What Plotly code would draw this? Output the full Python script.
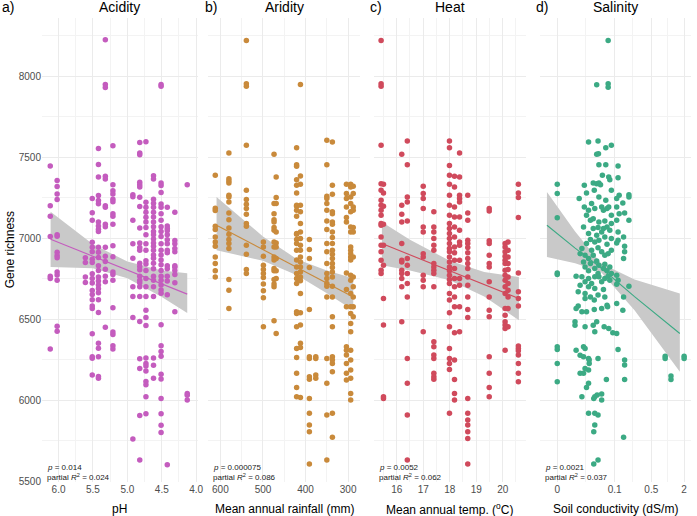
import numpy as np
import plotly.graph_objects as go

# ------------------------------------------------------------------------
# Data (gene richness per sample, grouped by site value)

# a) Acidity
ph_sites = [6.12, 6.02, 5.61, 5.51, 5.42, 5.32, 5.21, 4.92, 4.82, 4.73, 4.62, 4.51, 4.42, 4.31, 4.13]
ph_richness = [
    [7445, 7200, 7135, 7010, 6765, 6750, 6315],
    [7356, 7318, 7273, 7238, 7020, 7012, 6912, 6892, 6878, 6790, 6772, 6740, 6455, 6425],
    [6878, 6850, 6760, 6726],
    [7244, 7157, 7110, 6975, 6943, 6915, 6870, 6850, 6780, 6750, 6722, 6676, 6652, 6620, 6580, 6565,
     6410, 6268, 6258, 6155],
    [7553, 7455, 7377, 7263, 7232, 7212, 7099, 7075, 7055, 7040, 6943, 6912, 6880, 6830, 6800, 6760,
     6735, 6710, 6688, 6662, 6620, 6540, 6350, 6320, 6267, 6145, 6135],
    [8225, 7948, 7930, 7382, 7365, 7200, 7190, 7085, 7070, 6944, 6888, 6855, 6808, 6765, 6730, 6450],
    [7570, 7330, 7292, 7272, 7240, 7225, 7150, 7135, 7085, 6953, 6885, 6790, 6775, 6740, 6570, 6420,
     6405, 6335, 6315],
    [7268, 7255, 7110, 6965, 6875, 6700, 6640, 6510, 5760],
    [7590, 7525, 7515, 7345, 7330, 7315, 7252, 7195, 7062, 6970, 6942, 6925, 6845, 6825, 6805, 6765,
     6740, 6725, 6700, 6640, 6485, 6255, 6195, 5905, 5630],
    [7595, 7222, 7190, 7160, 7128, 7100, 7065, 7020, 6965, 6925, 6860, 6840, 6800, 6750, 6700, 6640,
     6555, 6510, 6460, 6260, 6226, 6210, 6180, 6115, 6095, 6020, 5915],
    [7385, 7365, 7240, 7215, 7190, 7160, 7130, 7100, 7070, 7040, 7020, 6995, 6970, 6950, 6925, 6895,
     6875, 6845, 6810, 6765, 6740, 6700, 6640, 6260, 6215, 6135],
    [7948, 7938, 7340, 7325, 7282, 7210, 7190, 7150, 7110, 7070, 7040, 7010, 6965, 6925, 6895, 6865,
     6835, 6800, 6765, 6740, 6710, 6680, 6660, 6465, 6335, 6300, 6270, 6160, 6130, 6010, 5915, 5845, 5800],
    [7190, 7075, 7060, 7045, 7020, 6990, 6965, 6925, 6910, 6830, 6810, 6765, 6735, 6650, 5600],
    [7160, 6985, 6965, 6935, 6915, 6830, 6820, 6800, 6775, 6725, 6545],
    [7330, 6040, 6030, 6000],
]

# b) Aridity
rain_sites = [612, 580, 539, 499, 474, 469, 421, 412, 391, 376, 350, 337, 304, 294, 288]
rain_richness = [
    [7388, 7185, 7170, 7073, 7053, 7007, 6976, 6950, 6884, 6843, 6798, 6760],
    [7525, 7367, 7353, 7340, 7264, 7254, 7223, 7155, 7114, 7063, 7024, 6991, 6966, 6935, 6744, 6678, 6565],
    [8220, 7953, 7937, 7573, 7295, 7238, 7209, 7182, 7147, 7090, 7073, 6956, 6900, 6806, 6781],
    [6976, 6945, 6888, 6833, 6806, 6781, 6757, 6716, 6675, 6631, 6452],
    [7517, 7213, 7151, 7114, 7100, 7065, 7048, 6976, 6945, 6884, 6864, 6812, 6798, 6744, 6716, 6699, 6489],
    [7377, 7250, 7213, 7038, 6970, 6945, 6874, 6798, 6751, 6411],
    [7558, 7453, 7443, 7361, 7326, 7279, 7203, 7197, 7172, 7135, 7028, 7024, 6991, 6966, 6925, 6864,
     6822, 6781, 6751, 6720, 6545, 6535, 6452, 6319, 6263, 6165, 6078, 6021],
    [7949, 7384, 7332, 7203, 7162, 7090, 7038, 6997, 6956, 6925, 6884, 6853, 6822, 6791, 6760, 6736,
     6658, 6539, 6463, 6350, 6325, 6016],
    [6991, 6930, 6874, 6818, 6559, 6267, 6257, 6144, 6128, 6010, 5918, 5846, 5805, 5605],
    [6267, 6257, 6154, 6134],
    [7604, 7453, 7258, 7244, 7213, 7172, 7106, 7053, 6966, 6915, 6843, 6781, 6751, 6720, 6703, 6637,
     6257, 6103, 5907, 5630],
    [7593, 7326, 7270, 7162, 7151, 7100, 7085, 7038, 7003, 6966, 6925, 6900, 6874, 6843, 6818, 6791,
     6760, 6703, 6637, 6514, 6452, 6267, 6247, 6226, 6175, 5918, 5770],
    [7332, 7275, 7244, 7192, 7127, 7100, 6785, 6683, 6576, 6329, 6308, 6278, 6226, 6165, 6124],
    [7332, 7316, 7254, 7213, 7162, 7069, 7038, 6945, 6925, 6904, 6884, 6864, 6771, 6740, 6658, 6576,
     6535, 6473, 6421, 6308, 6247, 6185, 6134, 6041, 6000],
    [7320, 7275, 7192, 7172, 7065, 7038, 6884, 6760, 6699, 6637, 6576, 6514],
]

# c) Heat
temp_sites = [15.41, 15.5, 16.19, 16.4, 17.0, 17.4, 17.99, 18.18, 18.37, 18.68, 19.49, 20.09, 20.2, 20.59]
temp_richness = [
    [8220, 7953, 7937, 7573, 7336, 7295, 7233, 7203, 7172, 7141, 7090, 7079, 7007, 6956, 6915, 6863, 6802, 6781],
    [7332, 7279, 7197, 7085, 6956, 6833, 6627, 6463, 6020, 6010],
    [7517, 7203, 7147, 7100, 6966, 6863, 6853, 6802, 6781, 6751, 6699, 6483],
    [7600, 7453, 7254, 7223, 7106, 6874, 6833, 6781, 6720, 6637, 6257, 6103, 5907, 5630],
    [7320, 7275, 7244, 7182, 7069, 7038, 6904, 6884, 6771, 6740, 6699, 6421],
    [7162, 7069, 7038, 6997, 6956, 6925, 6843, 6822, 6802, 6781, 6699, 6360, 6329, 6278, 6257, 6165, 6144, 6128],
    [7600, 7558, 7449, 7388, 7332, 7264, 7203, 7141, 7090, 7059, 7028, 6997, 6966, 6935, 6915, 6884,
     6853, 6822, 6798, 6771, 6744, 6720, 6658, 6617, 6539, 6452, 6319, 6257, 6226, 6189, 5918],
    [7382, 7316, 7192, 7131, 7069, 7007, 6945, 6909, 6863, 6812, 6751, 6699, 6637, 6576, 6415, 6247,
     6127, 6041, 6000],
    [7525, 7377, 7264, 7244, 7223, 7131, 7048, 6976, 6956, 6863, 6751, 6709, 6576, 6421],
    [7264, 7155, 7110, 6987, 6966, 6942, 6909, 6874, 6843, 6812, 6760, 6709, 6637, 6559, 6510, 6010,
     5918, 5877, 5846, 5805, 5763, 5605],
    [7182, 7168, 6983, 6966, 6894, 6843, 6822, 6730, 6637, 6555, 6514, 6267, 6165, 6078, 6021],
    [6966, 6945, 6915, 6888, 6863, 6843, 6802, 6771, 6740, 6699, 6658, 6565, 6524, 6483, 6463, 6442, 6308],
    [6976, 6925, 6884, 6843, 6806, 6760, 6720, 6678, 6637, 6565, 6452],
    [7332, 7279, 7250, 7127, 6785, 6668, 6627, 6580, 6333, 6319, 6304, 6278, 6226, 6165, 6113],
]

# d) Salinity: (soil conductivity dS/m, gene richness)
salinity_points = [
    (.074, 8220), (.042, 7947), (.074, 7953), (.074, 7932),
    (.027, 7593), (.045, 7599), (.066, 7558), (.086, 7573), (.042, 7517), (.046, 7521),
    (.047, 7453), (.066, 7453), (.117, 7445), (.056, 7388), (.076, 7377), (.080, 7361), (.117, 7373),
    (0, 7332), (.021, 7326), (.035, 7340), (.042, 7336), (.047, 7340), (.051, 7330),
    (0, 7275), (.015, 7244), (.024, 7279), (.037, 7295), (.086, 7295), (.123, 7264), (.19, 7268),
    (.19, 7254), (.066, 7233), (.11, 7244), (.145, 7217), (.047, 7254), (.032, 7213),
    (.021, 7192), (.027, 7172), (.038, 7182), (.054, 7192), (.059, 7172), (.07, 7182), (.076, 7192),
    (.11, 7192), (.123, 7151), (.157, 7155), (.024, 7141), (.03, 7110), (.035, 7120), (.086, 7141),
    (.11, 7110), (.19, 7110), (0, 7125), (.047, 7100), (.063, 7106), (.086, 7090),
    (.02, 7069), (.035, 7059), (.045, 7065), (.059, 7059), (.07, 7069), (.054, 7038), (.08, 7048),
    (.117, 7038), (.027, 7028), (.042, 7018), (.063, 7007), (.086, 6997), (.117, 6987), (.03, 6991),
    (.047, 6987), (.15, 7007),
    (.024, 6966), (.038, 6976), (.07, 6962), (.11, 6970), (.018, 6935), (.032, 6925), (.045, 6941),
    (.054, 6915), (.086, 6925), (.157, 6950), (.157, 6915), (.016, 6904), (.022, 6894), (.035, 6894),
    (.063, 6894), (.074, 6904), (.15, 6874), (.027, 6874),
    (.02, 6853), (.03, 6843), (.042, 6859), (.047, 6833), (.063, 6839), (.022, 6822), (.038, 6812),
    (.059, 6812), (.07, 6798), (.08, 6822), (.027, 6798), (0, 6785), (0, 6775), (.045, 6781),
    (.086, 6781), (.11, 6771),
    (.018, 6761), (.027, 6750), (.038, 6761), (.047, 6761), (.063, 6750), (.074, 6765), (.012, 6765),
    (.022, 6730), (.032, 6720), (.054, 6730), (.08, 6740), (.117, 6740), (.11, 6715), (.19, 6703),
    (.016, 6709), (.027, 6699), (.038, 6689), (.059, 6682),
    (.014, 6668), (.022, 6658), (.03, 6637), (.045, 6648), (.063, 6637), (.15, 6637), (.014, 6580),
    (.022, 6627), (.037, 6617), (.07, 6586), (.11, 6596),
    (.012, 6565), (.018, 6545), (.024, 6545), (.037, 6559), (.054, 6565), (.072, 6576), (.145, 6555),
    (.011, 6483), (.011, 6462), (.022, 6452), (.035, 6462), (.042, 6483), (.061, 6452), (.076, 6442),
    (.038, 6421), (.092, 6415), (.11, 6411),
    (.117, 6312), (.157, 6247), (.157, 6216), (.157, 6127), (.012, 6308), (.016, 6277), (.02, 6329),
    (.022, 6319), (.02, 6267), (.027, 6257), (.028, 6247), (.028, 6226), (.045, 6257), (.027, 6185),
    (.016, 6165), (.02, 6165), (.022, 6195), (.027, 6103), (.024, 6078), (.018, 6021), (.036, 6010),
    (.038, 6021), (.043, 6031), (.054, 6037), (.054, 6000), (.068, 6127), (.027, 5918), (.038, 5918),
    (.045, 5907), (.038, 5846), (.036, 5805), (.15, 5770), (.036, 5605), (.045, 5630),
    (0, 6329), (0, 6312), (0, 6226), (0, 6113),
    (0.9, 6271), (0.9, 6257), (1.15, 6148), (1.15, 6127), (2.0, 6271), (2.0, 6257),
]

# Fitted lines with 95% bands
ph_fit_x = [6.115, 5.5, 5.0, 4.5, 4.13]
ph_fit = [6993, 6888, 6803, 6717, 6654]
ph_hi = [7163, 6962, 6855, 6800, 6783]
ph_lo = [6822, 6814, 6752, 6637, 6537]

rain_fit_x = [609, 500, 420, 350, 288]
rain_fit = [7079, 6929, 6816, 6722, 6637]
rain_hi = [7254, 7010, 6870, 6800, 6752]
rain_lo = [6925, 6860, 6770, 6660, 6555]

temp_fit_x = [15.44, 16.5, 18.0, 19.3, 20.61]
temp_fit = [6966, 6896, 6798, 6713, 6627]
temp_hi = [7100, 6990, 6860, 6790, 6760]
temp_lo = [6833, 6800, 6740, 6640, 6493]

sal_fit_x = [-0.0035, 0.0111, 0.052, 0.243, 1.669]
sal_fit = [7079, 6938, 6817, 6639, 6411]
sal_hi = [7285, 7040, 6845, 6745, 6658]
sal_lo = [6884, 6845, 6790, 6555, 6175]

stats = [("0.014", "0.024"), ("0.000075", "0.086"), ("0.0052", "0.062"), ("0.0021", "0.037")]
titles = ["Acidity", "Aridity", "Heat", "Salinity"]
letters = ["a)", "b)", "c)", "d)"]
x_titles = ["pH", "Mean annual rainfall (mm)", "Mean annual temp. (<sup>o</sup>C)", "Soil conductivity (dS/m)"]
sal_ticks = [0, 0.1, 0.5, 2]
sal_tick_labels = ["0", "0.1", "0.5", "2"]

# ------------------------------------------------------------------------

COLORS = ["#C45CBE", "#C98A3B", "#D04A5C", "#3CAA84"]
BAND = "#C9C9C9"
FONT = "Liberation Sans, Arial, sans-serif"
COND_OFFSET = 0.01  # conductivity axis is log10(x + offset)


def expand(sites, groups):
    xs, ys = [], []
    for s, g in zip(sites, groups):
        xs += [s] * len(g)
        ys += list(g)
    return xs, ys


def cond_t(v):
    return np.log10(np.asarray(v, dtype=float) + COND_OFFSET)


ph_x, ph_y = expand(ph_sites, ph_richness)
rain_x, rain_y = expand(rain_sites, rain_richness)
temp_x, temp_y = expand(temp_sites, temp_richness)
sal_x, sal_y = zip(*salinity_points)

panels = [
    (ph_x, ph_y, ph_fit_x, ph_fit, ph_hi, ph_lo),
    (rain_x, rain_y, rain_fit_x, rain_fit, rain_hi, rain_lo),
    (temp_x, temp_y, temp_fit_x, temp_fit, temp_hi, temp_lo),
    (cond_t(sal_x), sal_y, cond_t(sal_fit_x), sal_fit, sal_hi, sal_lo),
]

fig = go.Figure()
for i, (px, py, fx, fy, hi, lo) in enumerate(panels):
    xa = 'x' if i == 0 else f'x{i + 1}'
    ya = 'y' if i == 0 else f'y{i + 1}'
    fx = list(fx)
    fig.add_trace(go.Scatter(x=fx + fx[::-1], y=list(hi) + list(lo)[::-1], fill='toself', fillcolor=BAND,
                             line=dict(width=0), mode='lines', hoverinfo='skip', xaxis=xa, yaxis=ya))
    fig.add_trace(go.Scatter(x=list(px), y=list(py), mode='markers', marker=dict(color=COLORS[i], size=5.5),
                             xaxis=xa, yaxis=ya))
    fig.add_trace(go.Scatter(x=fx, y=fy, mode='lines', line=dict(color=COLORS[i], width=1.1),
                             xaxis=xa, yaxis=ya))

# Panel geometry (pixels)
W, H = 697, 516
ML, MR, MT, MB = 42, 0, 18, 34
PW, PH = W - ML - MR, H - MT - MB
panel_px = [(42, 199), (210, 363), (377, 530), (545, 697)]


def xp(px):
    return (px - ML) / PW


def yp(py):
    return (H - MB - py) / PH


grid = dict(showgrid=True, gridcolor='#EBEBEB', gridwidth=1, zeroline=False, showline=False, ticks='',
            tickfont=dict(size=10, color='#4D4D4D', family=FONT))
minor = dict(showgrid=True, gridcolor='#F3F3F3', gridwidth=0.8)

x_specs = [
    dict(range=[6.24, 3.98], tickvals=[6.0, 5.5, 5.0, 4.5, 4.0], ticktext=["6.0", "5.5", "5.0", "4.5", "4.0"],
         minor=dict(tickmode='array', tickvals=[5.75, 5.25, 4.75, 4.25], **minor)),
    dict(range=[628, 272], tickvals=[600, 500, 400, 300],
         minor=dict(tickmode='array', tickvals=[550, 450, 350], **minor)),
    dict(range=[15.14, 20.86], tickvals=[16, 17, 18, 19, 20],
         minor=dict(tickmode='array', tickvals=[15.5, 16.5, 17.5, 18.5, 19.5, 20.5], **minor)),
    dict(range=[-2.306, 0.428], tickvals=list(cond_t(sal_ticks)), ticktext=sal_tick_labels,
         minor=dict(tickmode='array',
                    tickvals=list((cond_t(sal_ticks)[:-1] + cond_t(sal_ticks)[1:]) / 2), **minor)),
]

layout = dict(
    width=W, height=H, margin=dict(l=ML, r=MR, t=MT, b=MB),
    paper_bgcolor='white', plot_bgcolor='white', showlegend=False,
    font=dict(family=FONT, color='black'),
)
annotations = []
for i in range(4):
    sx = '' if i == 0 else str(i + 1)
    x0, x1 = panel_px[i]
    layout['xaxis' + sx] = dict(domain=[xp(x0), xp(x1)], anchor='y' + sx, **grid, **x_specs[i])
    layout['yaxis' + sx] = dict(domain=[0, 1], anchor='x' + sx, range=[5494, 8359],
                                tickvals=[5500, 6000, 6500, 7000, 7500, 8000], showticklabels=(i == 0),
                                minor=dict(tickmode='array', tickvals=[5750, 6250, 6750, 7250, 7750, 8250], **minor),
                                **grid)
    letter_x = 0 if i == 0 else x0 - 6
    annotations.append(dict(text=letters[i], x=xp(letter_x), y=yp(7), xref='paper', yref='paper',
                            xanchor='left', yanchor='middle', showarrow=False, font=dict(size=14)))
    annotations.append(dict(text=titles[i], x=xp((x0 + x1) / 2), y=yp(7), xref='paper', yref='paper',
                            xanchor='center', yanchor='middle', showarrow=False, font=dict(size=14)))
    annotations.append(dict(text=x_titles[i], x=xp((x0 + x1) / 2), y=yp(509), xref='paper', yref='paper',
                            xanchor='center', yanchor='middle', showarrow=False, font=dict(size=12)))
    p_val, r2 = stats[i]
    annotations.append(dict(text=f"<i>p</i> = {p_val}", x=xp(x0 + 3), y=yp(467), xref='paper', yref='paper',
                            xanchor='left', yanchor='middle', showarrow=False, font=dict(size=8, color='#1A1A1A')))
    annotations.append(dict(text=f"partial <i>R</i><sup>2</sup> = {r2}", x=xp(x0 + 3), y=yp(477),
                            xref='paper', yref='paper', xanchor='left', yanchor='middle', showarrow=False,
                            font=dict(size=8, color='#1A1A1A')))

annotations.append(dict(text="Gene richness", x=xp(10), y=yp(250), xref='paper', yref='paper', textangle=-90,
                        xanchor='center', yanchor='middle', showarrow=False, font=dict(size=12)))
layout['annotations'] = annotations

fig.update_layout(**layout)
# the page body has a default margin; drop it so the figure sits at the window's corner
fig.write_html("out.html", config={'displayModeBar': False},
               post_script="document.body.style.margin = '0px';")
